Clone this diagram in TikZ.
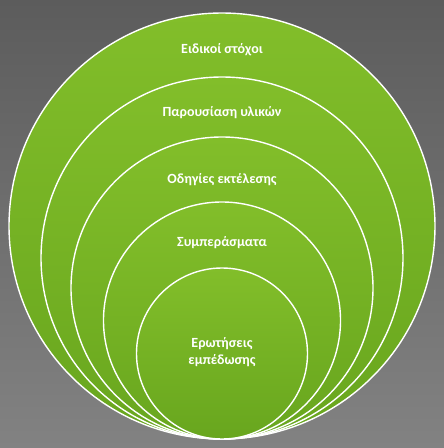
\documentclass[tikz,border=0pt]{standalone}
\usepackage{fontspec}
\setmainfont{Carlito}
\usetikzlibrary{positioning}
\definecolor{bgtop}{RGB}{92,92,92}
\definecolor{bgbot}{RGB}{130,130,130}
\definecolor{gtop}{RGB}{130,190,42}
\definecolor{gbot}{RGB}{104,166,30}

\begin{document}
\begin{tikzpicture}[x=1pt,y=-1pt,
                    ring/.style={draw=white,line width=1.4pt,top color=gtop,bottom color=gbot},
                    lbl/.style={text=white,font=\bfseries\fontsize{14}{17}\selectfont,align=center}
]
\useasboundingbox (0,0) rectangle (444,448);
\shade[top color=bgtop,bottom color=bgbot] (0,0) rectangle (444,448);
% rings, all touching at the bottom
\draw[ring] (222,226)   circle[radius=213pt];
\draw[ring] (222,258)   circle[radius=181pt];
\draw[ring] (222,288)   circle[radius=151pt];
\draw[ring] (222,320.5) circle[radius=118.5pt];
\draw[ring] (222,353.5) circle[radius=85.5pt];
% labels
\node[lbl] (t1) at (222,50)  {Ειδικοί στόχοι};
\node[lbl] (t2) at (222,113) {Παρουσίαση υλικών};
\node[lbl] (t3) at (222,180) {Οδηγίες εκτέλεσης};
\node[lbl] (t4) at (222,243) {Συμπεράσματα};
\node[lbl] (t5) at (222,352) {Ερωτήσεις\\εμπέδωσης};
\end{tikzpicture}
\end{document}
